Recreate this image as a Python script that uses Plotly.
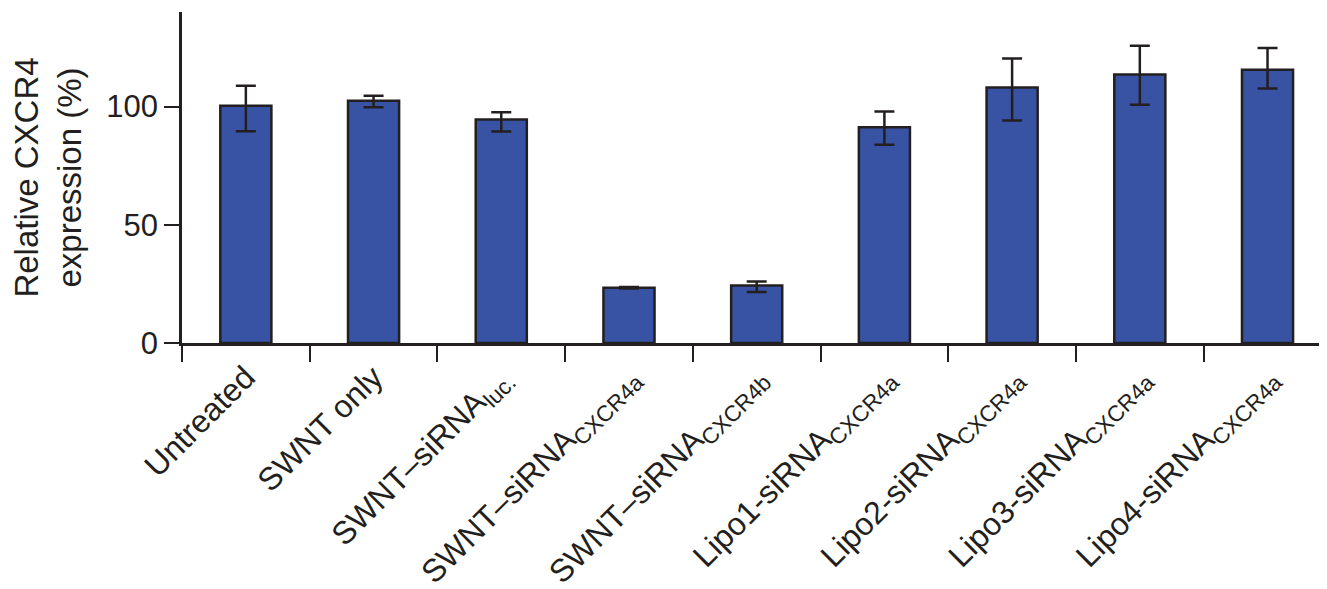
import plotly.graph_objects as go

categories = [
    "Untreated",
    "SWNT only",
    "SWNT\u2013siRNA<sub>luc.</sub>",
    "SWNT\u2013siRNA<sub>CXCR4a</sub>",
    "SWNT\u2013siRNA<sub>CXCR4b</sub>",
    "Lipo1-siRNA<sub>CXCR4a</sub>",
    "Lipo2-siRNA<sub>CXCR4a</sub>",
    "Lipo3-siRNA<sub>CXCR4a</sub>",
    "Lipo4-siRNA<sub>CXCR4a</sub>",
]
values = [100.4, 102.5, 94.5, 23.4, 24.3, 91.3, 108.1, 113.6, 115.6]
err_plus = [8.4, 2.1, 3.1, 0.3, 1.7, 6.6, 12.2, 12.1, 9.2]
err_minus = [10.8, 2.8, 5.0, 0.3, 2.7, 7.4, 14.0, 12.8, 8.0]
y_ticks = [0, 50, 100]

ink = "#231F20"
font_family = "Liberation Sans, Arial, Helvetica, sans-serif"

fig = go.Figure()
fig.add_trace(go.Bar(
    x=categories,
    y=values,
    width=0.40,
    marker=dict(color="#3953A4", line=dict(color=ink, width=2.5)),
    error_y=dict(type="data", symmetric=False, array=err_plus, arrayminus=err_minus,
                 color=ink, thickness=2.5, width=10),
    showlegend=False,
))

# page body has an 8px default margin; figure sized to fit inside the window
fig.update_layout(
    width=1319, height=581,
    margin=dict(l=174, r=2, t=4, b=245.5),
    paper_bgcolor="white", plot_bgcolor="white",
    font=dict(family=font_family, size=31, color=ink),
)
fig.update_xaxes(
    type="category",
    range=[-0.5, 8.45],
    automargin=False,
    showline=True, linecolor=ink, linewidth=2.5,
    ticks="outside", ticklen=16, tickwidth=2, tickcolor=ink,
    tickson="boundaries",
    tickangle=-45,
    tickfont=dict(size=32, color=ink),
    showgrid=False, zeroline=False,
)
fig.update_yaxes(
    range=[0, 140],
    tickvals=y_ticks,
    automargin=False,
    showline=True, linecolor=ink, linewidth=2.5,
    ticks="outside", ticklen=15, tickwidth=2, tickcolor=ink,
    tickfont=dict(size=31, color=ink),
    title=dict(text="Relative CXCR4<br>expression (%)", font=dict(size=33, color=ink), standoff=20),
    showgrid=False, zeroline=False,
)

fig.write_html("out.html")
